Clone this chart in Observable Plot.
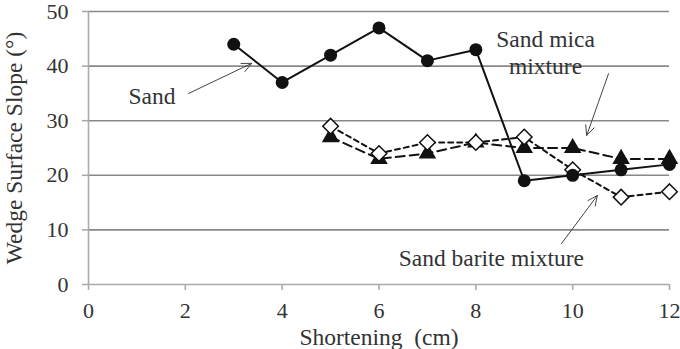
<!DOCTYPE html>
<html><head><meta charset="utf-8">
<script src="https://cdn.jsdelivr.net/npm/d3@7"></script>
<script src="https://cdn.jsdelivr.net/npm/@observablehq/plot@0.6"></script>
<style>body{margin:0;background:#fff}</style>
</head><body><div id="chart"></div>
<script>
const sandX = [3,4,5,6,7,8,9,10,11,12];
const sandY = [44,37,42,47,41,43,19,20,21,22];
const mixX = [5,6,7,8,9,10,11,12];
const bariteY = [29,24,26,26,27,21,16,17];
const micaY = [27,23,24,26,25,25,23,23];
const xTicks = [0,2,4,6,8,10,12];
const yTicks = [0,10,20,30,40,50];
const labels = [
  {text:"Sand", x:1.31, y:34.5, anchor:"middle"},
  {text:"Sand mica", x:9.44, y:44.8, anchor:"start"},
  {text:"mixture", x:9.44, y:40.0, anchor:"start"},
  {text:"Sand barite mixture", x:8.32, y:4.85, anchor:"middle"}
];
const arrows = [
  {x1:2.07, y1:35.0, x2:3.37, y2:40.5},
  {x1:10.74, y1:38.6, x2:10.29, y2:27.3},
  {x1:9.77, y1:7.5, x2:10.51, y2:16.3}
];
const sand = sandX.map((x,i)=>({x, y:sandY[i]}));
const barite = mixX.map((x,i)=>({x, y:bariteY[i]}));
const mica = mixX.map((x,i)=>({x, y:micaY[i]}));
const font = "Liberation Serif";
const chart = Plot.plot({
  width: 680, height: 349,
  marginLeft: 88, marginRight: 11, marginTop: 11, marginBottom: 65,
  style: {fontFamily: font, fontSize: "22px", background: "#fff"},
  x: {domain: [0,12]},
  y: {domain: [0,50]},
  marks: [
    Plot.gridY(yTicks.filter(d=>d>0), {stroke:"#888", strokeOpacity:1, strokeWidth:1.6}),
    Plot.ruleY([0], {stroke:"#aaa", strokeWidth:1.6}),
    Plot.ruleX([0], {y1:0, y2:50, stroke:"#aaa", strokeWidth:1.6}),
    Plot.axisX({ticks: xTicks, tickSize: 6, stroke:"#aaa", strokeWidth:1.6, tickPadding: 12, fill:"#333", fontSize: 22, fontFamily: font, label: null}),
    Plot.axisX({ticks: [], label: "Shortening  (cm)", labelAnchor: "center", labelArrow: "none", labelOffset: 60, fontSize: 23.5, fontFamily: font, fill:"#333"}),
    Plot.axisY({ticks: yTicks, tickSize: 6, stroke:"#aaa", strokeWidth:1.6, tickPadding: 14, fill:"#333", fontSize: 22, fontFamily: font, label: null}),
    Plot.axisY({ticks: [], label: "Wedge Surface Slope (°)", labelAnchor: "center", labelArrow: "none", labelOffset: 83, fontSize: 23.5, fontFamily: font, fill:"#333"}),
    Plot.line(mica, {x:"x", y:"y", stroke:"#111", strokeWidth:2, strokeDasharray:"9,5"}),
    Plot.line(barite, {x:"x", y:"y", stroke:"#111", strokeWidth:2, strokeDasharray:"5,4"}),
    Plot.line(sand, {x:"x", y:"y", stroke:"#111", strokeWidth:2}),
    Plot.dot(mica, {x:"x", y:"y", symbol:"triangle", r:6.5, fill:"#111", stroke:"none"}),
    Plot.dot(barite, {x:"x", y:"y", symbol:"diamond2", r:7, fill:"#fff", stroke:"#111", strokeWidth:1.5}),
    Plot.dot(sand, {x:"x", y:"y", symbol:"circle", r:6.5, fill:"#111", stroke:"none"}),
    Plot.arrow(arrows, {x1:"x1", y1:"y1", x2:"x2", y2:"y2", stroke:"#444", strokeWidth:1, headLength:16, headAngle:50, bend:0}),
    Plot.text(labels, {x:"x", y:"y", text:"text", textAnchor:"anchor", fontSize:23.5, fill:"#333", fontFamily: font})
  ]
});
document.getElementById("chart").appendChild(chart);
</script></body></html>
